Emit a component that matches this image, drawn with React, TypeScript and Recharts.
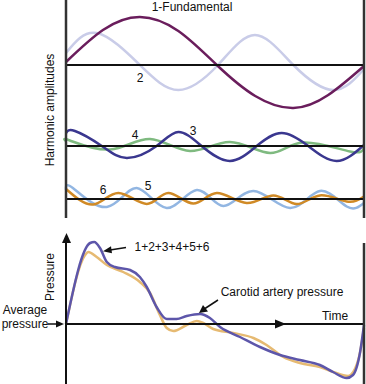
import { Line, LineChart, ReferenceLine, XAxis, YAxis } from "recharts";

// time runs 0..100 across one cardiac cycle; amplitudes in arbitrary units
const fundamental = [
  { t: 0, v: 3 },
  { t: 12.4, v: 35 },
  { t: 24.8, v: 48 },
  { t: 37.7, v: 34 },
  { t: 50.6, v: 0 },
  { t: 63.5, v: -31 },
  { t: 76.3, v: -43 },
  { t: 88, v: -30 },
  { t: 100, v: -1 },
];

const harmonic2 = [
  { t: 0, v: 12 },
  { t: 10.3, v: 32 },
  { t: 24.8, v: 0 },
  { t: 37.7, v: -25 },
  { t: 51, v: 0 },
  { t: 63.4, v: 30 },
  { t: 76.3, v: 0 },
  { t: 89.7, v: -25 },
  { t: 100, v: -4 },
];

const harmonic3 = [
  { t: 0, v: 13 },
  { t: 3, v: 15 },
  { t: 12, v: 0 },
  { t: 20.4, v: -12 },
  { t: 30.4, v: 0 },
  { t: 37.7, v: 14 },
  { t: 45.5, v: 0 },
  { t: 55, v: -15 },
  { t: 64, v: 0 },
  { t: 72.4, v: 13 },
  { t: 81.3, v: 0 },
  { t: 90.8, v: -15 },
  { t: 100, v: 1 },
];

const harmonic4 = [
  { t: 0, v: 5 },
  { t: 1.3, v: 5.5 },
  { t: 14.8, v: -3.5 },
  { t: 28.2, v: 7 },
  { t: 41.6, v: -5 },
  { t: 55, v: 4 },
  { t: 68.5, v: -7 },
  { t: 79.5, v: 3.5 },
  { t: 95.3, v: -5.5 },
  { t: 100, v: -2 },
];

const harmonic5 = [
  { t: 0, v: 9 },
  { t: 2.3, v: 11 },
  { t: 13.7, v: -8 },
  { t: 23.7, v: 11 },
  { t: 33.8, v: -9 },
  { t: 43.9, v: 9 },
  { t: 52.8, v: -7 },
  { t: 62.9, v: 8 },
  { t: 75.2, v: -9 },
  { t: 85.2, v: 8 },
  { t: 94.2, v: -7.5 },
  { t: 100, v: -4 },
];

const harmonic6 = [
  { t: 0, v: 10 },
  { t: 9.2, v: -5.5 },
  { t: 17.6, v: 6 },
  { t: 27.1, v: -5 },
  { t: 34.3, v: 6 },
  { t: 42.7, v: -4.5 },
  { t: 50.6, v: 6 },
  { t: 60.6, v: -4 },
  { t: 69.6, v: 3.6 },
  { t: 77.4, v: -5 },
  { t: 85.2, v: 3.6 },
  { t: 94.2, v: -2.5 },
  { t: 100, v: 2.5 },
];

// pressure relative to the average pressure
const harmonicSum = [
  { t: 0, v: 0 },
  { t: 8.1, v: 81 },
  { t: 9.5, v: 82 },
  { t: 11.4, v: 76 },
  { t: 13.7, v: 62 },
  { t: 16.4, v: 57 },
  { t: 21.5, v: 54 },
  { t: 24.8, v: 47 },
  { t: 27.1, v: 37 },
  { t: 30.4, v: 17 },
  { t: 33.8, v: 5 },
  { t: 37.1, v: 5 },
  { t: 40.5, v: 8 },
  { t: 45, v: 10 },
  { t: 48.3, v: 6 },
  { t: 51.7, v: -3 },
  { t: 58.4, v: -13 },
  { t: 65.1, v: -23 },
  { t: 71.8, v: -31 },
  { t: 78.5, v: -36 },
  { t: 85.2, v: -41 },
  { t: 89.6, v: -48 },
  { t: 94.2, v: -54 },
  { t: 96.3, v: -51 },
  { t: 98.7, v: -28 },
  { t: 100, v: -1 },
];

const carotid = [
  { t: 0, v: 0 },
  { t: 6.4, v: 69 },
  { t: 7.5, v: 72 },
  { t: 10.3, v: 67 },
  { t: 13.7, v: 59 },
  { t: 19.2, v: 52 },
  { t: 24.8, v: 42 },
  { t: 28.2, v: 31 },
  { t: 31.5, v: 9 },
  { t: 33.8, v: -4 },
  { t: 36, v: -7 },
  { t: 40.5, v: -1 },
  { t: 43.9, v: 3 },
  { t: 46.1, v: 1 },
  { t: 49.4, v: -5 },
  { t: 56.1, v: -9 },
  { t: 62.9, v: -14 },
  { t: 67.3, v: -21 },
  { t: 72.9, v: -33 },
  { t: 78.5, v: -39 },
  { t: 85.2, v: -43 },
  { t: 89.7, v: -48 },
  { t: 94.7, v: -52 },
  { t: 96.4, v: -48 },
  { t: 98.7, v: -28 },
  { t: 100, v: -4 },
];

const FONT = "'Liberation Sans', Arial, sans-serif";
const FRAME = "#333333";

function Wave({ data, yAxisId, color, width = 2.5 }: { data: { t: number; v: number }[]; yAxisId: string; color: string; width?: number }) {
  return (
    <Line
      data={data}
      dataKey="v"
      yAxisId={yAxisId}
      type="natural"
      stroke={color}
      strokeWidth={width}
      dot={false}
      activeDot={false}
      isAnimationActive={false}
    />
  );
}

export default function App() {
  return (
    <div style={{ position: "absolute", left: 0, top: 0, width: 366, height: 384, background: "#fff", fontFamily: FONT }}>
      <div style={{ position: "absolute", left: 0, top: 0 }}>
        <LineChart width={366} height={218} margin={{ top: 0, right: 2, bottom: 0, left: 66 }}>
          <XAxis type="number" dataKey="t" domain={[0, 100]} hide />
          <YAxis yAxisId="a" domain={[-153, 65]} hide />
          <YAxis yAxisId="b" domain={[-72, 146]} hide />
          <YAxis yAxisId="c" domain={[-19, 199]} hide />
          <Wave data={harmonic2} yAxisId="a" color="#c9cce8" />
          <Wave data={fundamental} yAxisId="a" color="#6a1d5c" />
          <Wave data={harmonic4} yAxisId="b" color="#7fba80" />
          <Wave data={harmonic3} yAxisId="b" color="#3a378f" />
          <Wave data={harmonic5} yAxisId="c" color="#92b6e2" />
          <Wave data={harmonic6} yAxisId="c" color="#d08a26" />
          <ReferenceLine yAxisId="a" y={0} stroke="#111" strokeWidth={2} />
          <ReferenceLine yAxisId="b" y={0} stroke="#111" strokeWidth={2} />
          <ReferenceLine yAxisId="c" y={0} stroke="#111" strokeWidth={2} />
          <ReferenceLine yAxisId="a" x={0} stroke={FRAME} strokeWidth={2.5} />
          <ReferenceLine yAxisId="a" x={100} stroke={FRAME} strokeWidth={2.5} />
        </LineChart>
      </div>
      <div style={{ position: "absolute", left: 0, top: 225 }}>
        <LineChart width={366} height={159} margin={{ top: 0, right: 2, bottom: 0, left: 66 }}>
          <XAxis type="number" dataKey="t" domain={[0, 100]} hide />
          <YAxis domain={[-60, 99]} hide />
          <Line data={carotid} dataKey="v" type="monotone" stroke="#e6ba72" strokeWidth={2.5} dot={false} activeDot={false} isAnimationActive={false} />
          <Line data={harmonicSum} dataKey="v" type="monotone" stroke="#5d56aa" strokeWidth={2.5} dot={false} activeDot={false} isAnimationActive={false} />
          <ReferenceLine y={0} stroke="#111" strokeWidth={2} />
          <ReferenceLine segment={[{ x: 0, y: -60 }, { x: 0, y: 82 }]} stroke="#111" strokeWidth={2} />
          <ReferenceLine segment={[{ x: 100, y: -60 }, { x: 100, y: 81 }]} stroke={FRAME} strokeWidth={2.5} />
        </LineChart>
      </div>
      <svg width={366} height={384} style={{ position: "absolute", left: 0, top: 0, pointerEvents: "none" }} fontFamily={FONT} fontSize={12} fill="#111">
        <text x={192} y={11} textAnchor="middle">1-Fundamental</text>
        <text x={140} y={82} textAnchor="middle">2</text>
        <text x={135} y={139} textAnchor="middle">4</text>
        <text x={193} y={135} textAnchor="middle">3</text>
        <text x={103} y={194} textAnchor="middle">6</text>
        <text x={148} y={190} textAnchor="middle">5</text>
        <text transform="translate(54,110) rotate(-90)" textAnchor="middle">Harmonic amplitudes</text>
        <text transform="translate(54,277) rotate(-90)" textAnchor="middle">Pressure</text>
        <text x={25} y={314} textAnchor="middle">Average</text>
        <text x={25} y={328} textAnchor="middle">pressure</text>
        <text x={172} y={251} textAnchor="middle">1+2+3+4+5+6</text>
        <text x={282} y={296} textAnchor="middle">Carotid artery pressure</text>
        <text x={335} y={320} textAnchor="middle">Time</text>
        {/* arrows */}
        <polygon points="66.5,233 62,243 71,243" fill="#111" />
        <polygon points="286,324 275,319.5 275,328.5" fill="#111" />
        <line x1={48} y1={324} x2={58} y2={324} stroke="#111" strokeWidth={1.5} />
        <polygon points="64,324 56,320.5 56,327.5" fill="#111" />
        <line x1={126} y1={247.5} x2={110} y2={250} stroke="#111" strokeWidth={1.5} />
        <polygon points="103,251.2 111,246.3 112,253.3" fill="#111" />
        <line x1={218} y1={300} x2={205} y2={308.5} stroke="#111" strokeWidth={1.5} />
        <polygon points="199,313 203,305 208,311.5" fill="#111" />
      </svg>
    </div>
  );
}
